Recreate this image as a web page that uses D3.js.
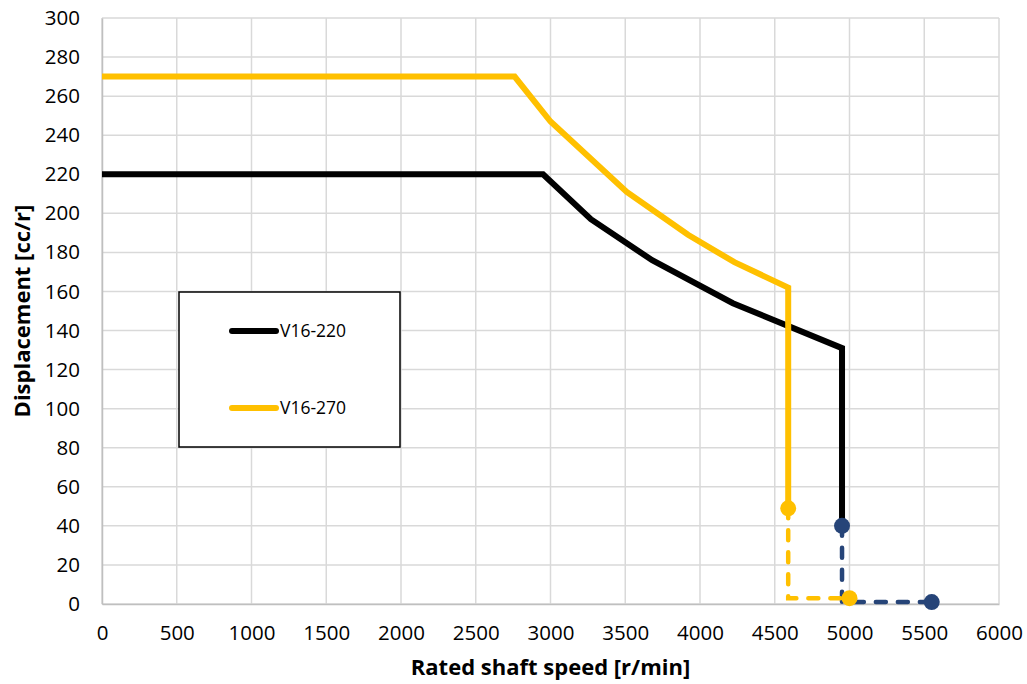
<!DOCTYPE html>
<html>
<head>
<meta charset="utf-8">
<script src="https://cdn.jsdelivr.net/npm/d3@7"></script>
<style>
  body { margin: 0; background: #fff; }
  svg text { font-family: "Open Sans", sans-serif; fill: #000; }
</style>
</head>
<body>
<div id="chart"></div>
<script>
// Data
const v220Speed = [0, 2950, 3270, 3680, 4220, 4950, 4950];
const v220Disp  = [220, 220, 197, 176, 154, 131, 40];
const v270Speed = [0, 2760, 3000, 3510, 3920, 4230, 4590, 4590];
const v270Disp  = [270, 270, 247, 211, 189, 175, 162, 49];
const v220TailSpeed = [4950, 4950, 5550];
const v220TailDisp  = [40, 1, 1];
const v270TailSpeed = [4590, 4590, 5000];
const v270TailDisp  = [49, 3, 3];
const xTicks = [0, 500, 1000, 1500, 2000, 2500, 3000, 3500, 4000, 4500, 5000, 5500, 6000];
const yTicks = [0, 20, 40, 60, 80, 100, 120, 140, 160, 180, 200, 220, 240, 260, 280, 300];
const seriesNames = ["V16-220", "V16-270"];

// Dimensions
const width = 1027;
const height = 684;
const margin = { top: 18, right: 28, bottom: 80, left: 102 };

const svg = d3.select("#chart").append("svg")
  .attr("width", width)
  .attr("height", height);

const x = d3.scaleLinear()
  .domain([0, 6000])
  .range([margin.left, width - margin.right]);

const y = d3.scaleLinear()
  .domain([0, 300])
  .range([height - margin.bottom, margin.top]);

// Gridlines
svg.append("g")
  .selectAll("line")
  .data(yTicks)
  .enter()
  .append("line")
    .attr("x1", x(0))
    .attr("x2", x(6000))
    .attr("y1", d => y(d))
    .attr("y2", d => y(d))
    .attr("stroke", "#d9d9d9")
    .attr("stroke-width", 1.5);

svg.append("g")
  .selectAll("line")
  .data(xTicks)
  .enter()
  .append("line")
    .attr("x1", d => x(d))
    .attr("x2", d => x(d))
    .attr("y1", y(0))
    .attr("y2", y(300))
    .attr("stroke", "#d9d9d9")
    .attr("stroke-width", 1.5);

// Axes (lines only + tick labels)
const xAxis = svg.append("g")
  .attr("transform", `translate(0, ${y(0)})`)
  .call(d3.axisBottom(x).tickValues(xTicks).tickSize(0).tickPadding(21).tickFormat(d3.format("d")));
xAxis.select(".domain").attr("stroke", "#bfbfbf").attr("stroke-width", 1.5);
xAxis.selectAll("text").style("font-size", "20.5px").style("font-family", "'Open Sans', sans-serif");

const yAxis = svg.append("g")
  .attr("transform", `translate(${x(0)}, 0)`)
  .call(d3.axisLeft(y).tickValues(yTicks).tickSize(0).tickPadding(22));
yAxis.select(".domain").attr("stroke", "#bfbfbf").attr("stroke-width", 1.5);
yAxis.selectAll("text").style("font-size", "20.5px").style("font-family", "'Open Sans', sans-serif");

// Axis titles
svg.append("text")
  .attr("x", (x(0) + x(6000)) / 2)
  .attr("y", 675)
  .attr("text-anchor", "middle")
  .style("font-size", "22px")
  .style("font-weight", "bold")
  .text("Rated shaft speed [r/min]");

svg.append("text")
  .attr("transform", "rotate(-90)")
  .attr("x", -(y(0) + y(300)) / 2)
  .attr("y", 30)
  .attr("text-anchor", "middle")
  .style("font-size", "22px")
  .style("font-weight", "bold")
  .text("Displacement [cc/r]");

// Lines
const line = d3.line()
  .x(d => x(d[0]))
  .y(d => y(d[1]));

const zip = (a, b) => a.map((v, i) => [v, b[i]]);

svg.append("path")
  .datum(zip(v220Speed, v220Disp))
  .attr("fill", "none")
  .attr("stroke", "#000000")
  .attr("stroke-width", 6)
  .attr("stroke-linejoin", "miter")
  .attr("d", line);

svg.append("path")
  .datum(zip(v270Speed, v270Disp))
  .attr("fill", "none")
  .attr("stroke", "#FFC000")
  .attr("stroke-width", 6)
  .attr("stroke-linejoin", "miter")
  .attr("d", line);

// Dashed tails with markers
const tails = [
  { pts: zip(v220TailSpeed, v220TailDisp), color: "#264478" },
  { pts: zip(v270TailSpeed, v270TailDisp), color: "#FFC000" }
];

tails.forEach(t => {
  svg.append("path")
    .datum(t.pts)
    .attr("fill", "none")
    .attr("stroke", t.color)
    .attr("stroke-width", 4.5)
    .attr("stroke-dasharray", "10,12")
    .attr("stroke-linecap", "round")
    .attr("d", line);

  svg.selectAll(null)
    .data([t.pts[0], t.pts[t.pts.length - 1]])
    .enter()
    .append("circle")
      .attr("cx", d => x(d[0]))
      .attr("cy", d => y(d[1]))
      .attr("r", 8)
      .attr("fill", t.color);
});

// Legend
const legend = svg.append("g")
  .attr("transform", "translate(179, 292)");

legend.append("rect")
  .attr("x", 0)
  .attr("y", 0)
  .attr("width", 221)
  .attr("height", 155)
  .attr("fill", "#fff")
  .attr("stroke", "#000")
  .attr("stroke-width", 1.5);

const legendColors = ["#000000", "#FFC000"];
seriesNames.forEach((name, i) => {
  legend.append("line")
    .attr("x1", 53)
    .attr("x2", 97)
    .attr("y1", 39 + i * 77)
    .attr("y2", 39 + i * 77)
    .attr("stroke", legendColors[i])
    .attr("stroke-width", 6)
    .attr("stroke-linecap", "round");

  legend.append("text")
    .attr("x", 101)
    .attr("y", 39 + i * 77)
    .attr("dy", "0.35em")
    .style("font-size", "17.5px")
    .text(name);
});
</script>
</body>
</html>
